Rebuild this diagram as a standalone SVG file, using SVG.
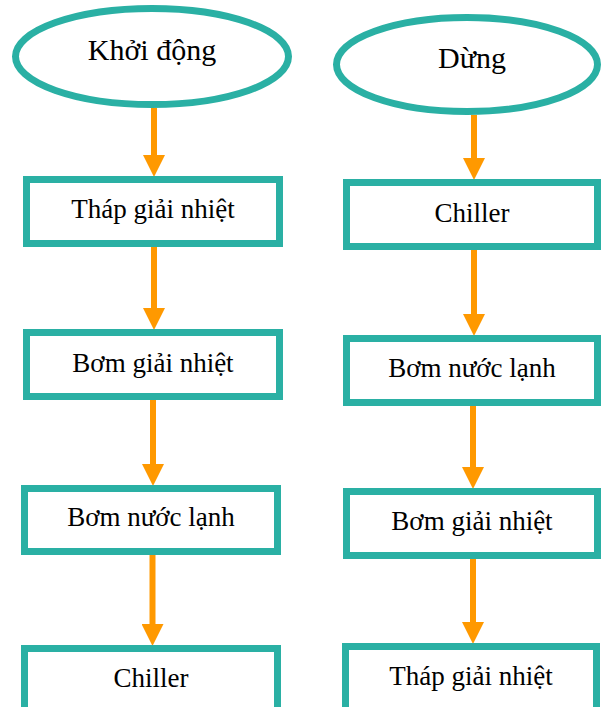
<svg xmlns="http://www.w3.org/2000/svg" width="602" height="707" viewBox="0 0 602 707">
  <style>
    .node { fill: #ffffff; stroke: #2AB0A4; stroke-width: 7; }
    .conn { stroke: #FF9900; stroke-width: 6; fill: none; }
    .lbl { font-size: 27px; fill: #000000; text-anchor: middle; }
    .big { font-size: 30px; }
  </style>
  <defs>
    <marker id="ah" viewBox="0 0 22 22" refX="0" refY="11" markerWidth="22" markerHeight="22" markerUnits="userSpaceOnUse" orient="auto">
      <path d="M0,0 L22,11 L0,22 Z" fill="#FF9900"/>
    </marker>
  </defs>
  <rect width="602" height="707" fill="#ffffff"/>
  <g id="connectors">
    <line class="conn" x1="154" y1="108" x2="154" y2="155" marker-end="url(#ah)"/>
    <line class="conn" x1="154" y1="247" x2="154" y2="308" marker-end="url(#ah)"/>
    <line class="conn" x1="153" y1="400" x2="153" y2="464" marker-end="url(#ah)"/>
    <line class="conn" x1="152.5" y1="555" x2="152.5" y2="624" marker-end="url(#ah)"/>
    <line class="conn" x1="474" y1="115" x2="474" y2="158" marker-end="url(#ah)"/>
    <line class="conn" x1="474" y1="250" x2="474" y2="314" marker-end="url(#ah)"/>
    <line class="conn" x1="473" y1="406" x2="473" y2="467" marker-end="url(#ah)"/>
    <line class="conn" x1="473" y1="559" x2="473" y2="622" marker-end="url(#ah)"/>
  </g>
  <g font-family="'Liberation Serif', 'DejaVu Serif', serif">
  <g id="start">
    <ellipse class="node" cx="152" cy="56.5" rx="136.5" ry="48"/>
    <text class="lbl big" x="152" y="60">Khởi động</text>
  </g>
  <g id="l1">
    <rect class="node" x="26.5" y="179.5" width="253" height="64"/>
    <text class="lbl" x="153" y="218">Tháp giải nhiệt</text>
  </g>
  <g id="l2">
    <rect class="node" x="26.5" y="332.5" width="253" height="64"/>
    <text class="lbl" x="153" y="372">Bơm giải nhiệt</text>
  </g>
  <g id="l3">
    <rect class="node" x="24.5" y="488.5" width="253" height="63"/>
    <text class="lbl" x="151" y="526">Bơm nước lạnh</text>
  </g>
  <g id="l4">
    <rect class="node" x="24.5" y="648.5" width="253" height="64"/>
    <text class="lbl" x="151" y="687">Chiller</text>
  </g>
  <g id="stop">
    <ellipse class="node" cx="467" cy="64.5" rx="130.5" ry="47"/>
    <text class="lbl big" x="472" y="68">Dừng</text>
  </g>
  <g id="r1">
    <rect class="node" x="346.5" y="182.5" width="251" height="64"/>
    <text class="lbl" x="472" y="222">Chiller</text>
  </g>
  <g id="r2">
    <rect class="node" x="346.5" y="338.5" width="251" height="64"/>
    <text class="lbl" x="472" y="377">Bơm nước lạnh</text>
  </g>
  <g id="r3">
    <rect class="node" x="346.5" y="491.5" width="251" height="64"/>
    <text class="lbl" x="472" y="530">Bơm giải nhiệt</text>
  </g>
  <g id="r4">
    <rect class="node" x="345.5" y="646.5" width="251" height="64"/>
    <text class="lbl" x="471" y="685">Tháp giải nhiệt</text>
  </g>
  </g>
</svg>
